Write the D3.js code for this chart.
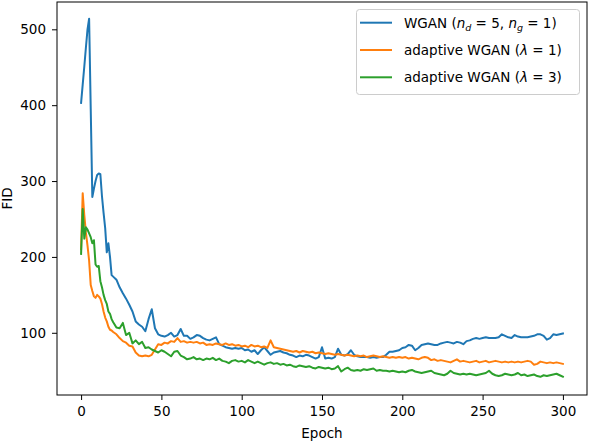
<!DOCTYPE html>
<html>
<head>
<meta charset="utf-8">
<script src="https://cdn.jsdelivr.net/npm/d3@7"></script>
<style>
  body { margin: 0; background: #fff; }
  text { font-family: "DejaVu Sans", sans-serif; }
</style>
</head>
<body>
<div id="chart"></div>
<script>
// epochs: every epoch for the first 20, then every second epoch
const epochs = d3.range(0, 20).concat(d3.range(20, 301, 2));

const wgan = [403, 427, 451, 476, 500, 514, 395, 279, 290, 300, 308, 310, 309, 280, 258, 238, 206, 218, 200, 176,
  174, 170, 160, 152, 145, 137, 128, 115, 111, 108, 102, 118, 131, 106, 98, 96, 95, 97, 100, 95,
  97, 105, 96, 96, 92, 94, 97, 96, 93, 91, 90, 92, 94, 85, 83, 81, 80, 79, 80, 79,
  80, 77, 78, 75, 77, 72, 77, 81, 76, 71, 74, 75, 76, 74, 73, 71, 70, 68, 70, 69,
  71, 70, 68, 66, 68, 81, 66, 67, 66, 68, 79, 71, 70, 72, 77, 71, 69, 68, 68, 68,
  67, 68, 67, 68, 68, 71, 75, 75, 76, 77, 80, 81, 84, 83, 77, 80, 84, 85, 86, 85,
  84, 84, 86, 87, 88, 87, 86, 88, 87, 85, 89, 90, 92, 93, 92, 93, 94, 93, 93, 93,
  94, 98, 96, 94, 93, 97, 95, 94, 94, 94, 95, 96, 98, 98, 96, 91, 93, 98, 97, 98, 99];

const adaptive1 = [210, 284, 255, 232, 215, 195, 163, 155, 148, 146, 150, 148, 145, 138, 128, 120, 115, 108, 104, 103,
  101, 98, 93, 89, 87, 83, 82, 74, 70, 69, 70, 69, 71, 78, 85, 84, 87, 86, 89, 88,
  93, 88, 89, 87, 88, 87, 88, 86, 87, 84, 85, 84, 86, 85, 84, 86, 84, 85, 83, 84,
  82, 83, 81, 84, 82, 83, 81, 82, 80, 90, 81, 80, 79, 78, 77, 76, 75, 76, 74, 76,
  75, 74, 75, 73, 74, 73, 72, 73, 72, 71, 72, 71, 70, 71, 70, 69, 70, 69, 70, 68,
  69, 70, 69, 68, 69, 68, 67, 68, 67, 68, 67, 68, 66, 67, 66, 65, 67, 68, 67, 64,
  65, 63, 64, 63, 62, 61, 63, 65, 62, 63, 62, 61, 62, 63, 61, 62, 63, 61, 62, 63,
  62, 61, 62, 61, 62, 61, 62, 61, 62, 63, 62, 58, 59, 62, 61, 60, 61, 60, 61, 60, 59];

const adaptive3 = [204, 263, 224, 239, 236, 231, 226, 218, 222, 190, 187, 188, 168, 160, 150, 143, 138, 128, 125, 118,
  114, 107, 106, 113, 97, 100, 86, 90, 85, 88, 80, 81, 78, 76, 74, 77, 75, 72, 69, 75,
  76, 70, 68, 65, 66, 68, 65, 66, 64, 66, 65, 67, 64, 66, 63, 62, 60, 63, 64, 62,
  63, 61, 64, 62, 60, 62, 60, 58, 60, 61, 59, 60, 58, 59, 57, 58, 56, 55, 57, 56,
  55, 56, 54, 53, 55, 54, 53, 54, 52, 53, 56, 49, 52, 54, 51, 50, 51, 50, 52, 51,
  52, 53, 50, 51, 50, 50, 49, 50, 49, 48, 49, 48, 50, 51, 49, 48, 47, 48, 49, 50,
  47, 46, 45, 44, 46, 50, 47, 46, 45, 46, 45, 46, 45, 44, 45, 46, 47, 50, 46, 44,
  43, 44, 46, 45, 44, 45, 47, 44, 45, 43, 44, 45, 43, 42, 44, 43, 44, 45, 46, 44, 42];

const seriesNames = ["wgan", "adaptive1", "adaptive3"];
const seriesColours = ["#1f77b4", "#ff7f0e", "#2ca02c"];
const xTicks = [0, 50, 100, 150, 200, 250, 300];
const yTicks = [100, 200, 300, 400, 500];

const w = 590;
const h = 442;
const plotLeft = 57, plotRight = 587, plotTop = 2, plotBottom = 395;

const svg = d3.select("#chart")
  .append("svg")
  .attr("width", w)
  .attr("height", h);

const x = d3.scaleLinear().domain([-15, 315]).range([plotLeft, plotRight]);
const y = d3.scaleLinear().domain([18, 536]).range([plotBottom, plotTop]);

const allSeries = [wgan, adaptive1, adaptive3];

const line = d3.line()
  .x((d, i) => x(epochs[i]))
  .y(d => y(d));

svg.append("g")
  .selectAll("path")
  .data(allSeries)
  .enter()
  .append("path")
  .attr("class", (d, i) => seriesNames[i])
  .attr("d", line)
  .attr("fill", "none")
  .attr("stroke", (d, i) => seriesColours[i])
  .attr("stroke-width", 2)
  .attr("stroke-linejoin", "round")
  .attr("stroke-linecap", "square");

// axes
const xAxis = d3.axisBottom(x).tickValues(xTicks).tickSize(5).tickPadding(6);
const yAxis = d3.axisLeft(y).tickValues(yTicks).tickSize(5).tickPadding(6);

const gx = svg.append("g")
  .attr("transform", "translate(0," + plotBottom + ")")
  .call(xAxis);
const gy = svg.append("g")
  .attr("transform", "translate(" + plotLeft + ",0)")
  .call(yAxis);

[gx, gy].forEach(g => {
  g.select(".domain").remove();
  g.selectAll("line").attr("stroke", "#000").attr("stroke-width", 1);
  g.selectAll("text").attr("font-size", "13.5px").attr("fill", "#000")
    .style("font-family", "DejaVu Sans");
});

// frame
svg.append("rect")
  .attr("x", plotLeft)
  .attr("y", plotTop)
  .attr("width", plotRight - plotLeft)
  .attr("height", plotBottom - plotTop)
  .attr("fill", "none")
  .attr("stroke", "#000")
  .attr("stroke-width", 1);

svg.append("text")
  .attr("x", (plotLeft + plotRight) / 2)
  .attr("y", 438)
  .attr("text-anchor", "middle")
  .attr("font-size", "13.5px")
  .text("Epoch");

svg.append("text")
  .attr("transform", "translate(12," + ((plotTop + plotBottom) / 2) + ") rotate(-90)")
  .attr("text-anchor", "middle")
  .attr("font-size", "13.5px")
  .text("FID");

// legend
const legend = svg.append("g");
legend.append("rect")
  .attr("x", 356.5)
  .attr("y", 9.5)
  .attr("width", 223)
  .attr("height", 85)
  .attr("rx", 3)
  .attr("fill", "#fff")
  .attr("fill-opacity", 0.8)
  .attr("stroke", "#ccc")
  .attr("stroke-width", 1);

const rowsY = [22.7, 50, 77.3];
rowsY.forEach((ry, i) => {
  legend.append("line")
    .attr("x1", 360).attr("x2", 392)
    .attr("y1", ry).attr("y2", ry)
    .attr("stroke", seriesColours[i])
    .attr("stroke-width", 2);
});

const t0 = legend.append("text").attr("x", 404).attr("y", rowsY[0] + 5).attr("font-size", "13.5px");
t0.append("tspan").text("WGAN (");
t0.append("tspan").attr("font-style", "italic").text("n");
t0.append("tspan").attr("font-style", "italic").attr("font-size", "9.5px").attr("dy", 3).text("d");
t0.append("tspan").attr("dy", -3).text(" = 5, ");
t0.append("tspan").attr("font-style", "italic").text("n");
t0.append("tspan").attr("font-style", "italic").attr("font-size", "9.5px").attr("dy", 3).text("g");
t0.append("tspan").attr("dy", -3).text(" = 1)");

["1", "3"].forEach((lam, k) => {
  const t = legend.append("text").attr("x", 404).attr("y", rowsY[k + 1] + 5).attr("font-size", "13.5px");
  t.append("tspan").text("adaptive WGAN (");
  t.append("tspan").attr("font-style", "italic").text("λ");
  t.append("tspan").text(" = " + lam + ")");
});
</script>
</body>
</html>
